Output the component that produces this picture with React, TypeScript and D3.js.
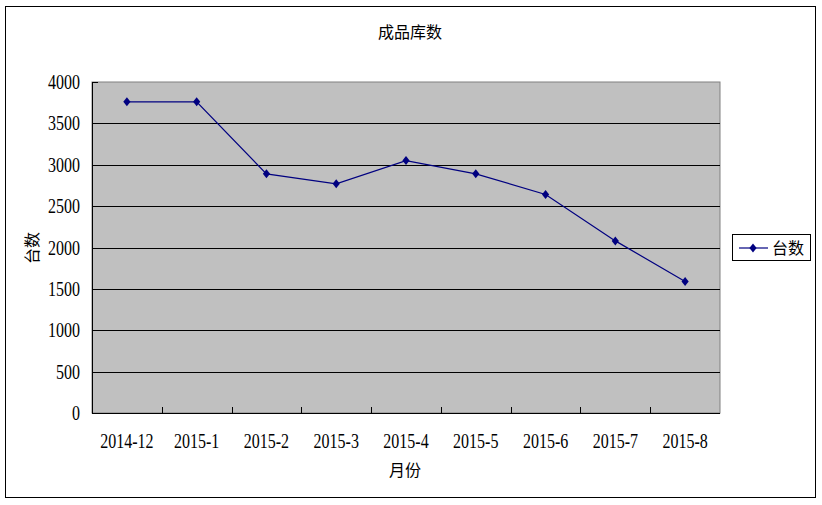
import React from "react";
import * as d3 from "d3";

const categories = ["2014-12", "2015-1", "2015-2", "2015-3", "2015-4", "2015-5", "2015-6", "2015-7", "2015-8"];
const values = [3760, 3760, 2890, 2770, 3050, 2890, 2640, 2080, 1590];
const yTicks = [0, 500, 1000, 1500, 2000, 2500, 3000, 3500, 4000];
const title = "成品库数";
const yTitle = "台数";
const xTitle = "月份";
const seriesName = "台数";

const W = 822, H = 505;
const plot = { left: 92, right: 720, top: 82, bottom: 413 };
const serif = "'Liberation Serif', serif";
const cjk = "'Noto Sans CJK SC', sans-serif";
const SX = 0.8;
const diamond = "M0,-4.5L3.6,0L0,4.5L-3.6,0Z";

export default function App() {
  const x = d3.scaleBand<string>().domain(categories).range([plot.left, plot.right]);
  const y = d3.scaleLinear().domain([0, 4000]).range([plot.bottom, plot.top]);
  const cx = (i: number) => (x(categories[i]) as number) + x.bandwidth() / 2;
  const line = d3.line<number>().x((_, i) => cx(i)).y((d) => y(d));
  const boundaries = categories.slice(1).map((c) => x(c) as number);

  return (
    <svg width={W} height={H} style={{ position: "absolute", left: 0, top: 0 }}>
      <rect x={0} y={0} width={W} height={H} fill="#fff" />
      <rect x={5.5} y={6.5} width={810} height={491} fill="none" stroke="#000" strokeWidth={1} />
      <text x={410} y={38} textAnchor="middle" fontFamily={cjk} fontSize={16} fill="#000">{title}</text>

      <rect x={plot.left} y={plot.top} width={plot.right - plot.left} height={plot.bottom - plot.top}
        fill="#c0c0c0" stroke="#808080" strokeWidth={1} />
      {yTicks.filter((t) => t > 0 && t < 4000).map((t) => (
        <line key={t} x1={plot.left} x2={plot.right} y1={Math.round(y(t)) + 0.5} y2={Math.round(y(t)) + 0.5} stroke="#000" />
      ))}
      {yTicks.map((t) => (
        <line key={"yt" + t} x1={plot.left} x2={plot.left + 6} y1={Math.round(y(t)) + 0.5} y2={Math.round(y(t)) + 0.5} stroke="#000" />
      ))}
      {boundaries.map((b, i) => (
        <line key={"xt" + i} x1={Math.round(b) + 0.5} x2={Math.round(b) + 0.5} y1={plot.bottom - 6} y2={plot.bottom} stroke="#000" />
      ))}
      <line x1={plot.left + 0.5} x2={plot.left + 0.5} y1={plot.top} y2={plot.bottom} stroke="#000" />
      <line x1={plot.left} x2={plot.right} y1={plot.bottom + 0.5} y2={plot.bottom + 0.5} stroke="#000" />

      {yTicks.map((t) => (
        <text key={"yl" + t} transform={`translate(80,${y(t) + 7}) scale(${SX},1)`} textAnchor="end"
          fontFamily={serif} fontSize={20} fill="#000">{t}</text>
      ))}
      {categories.map((c, i) => (
        <text key={c} transform={`translate(${cx(i)},448) scale(${SX},1)`} textAnchor="middle"
          fontFamily={serif} fontSize={20} fill="#000">{c}</text>
      ))}
      <text x={405} y={476} textAnchor="middle" fontFamily={cjk} fontSize={16} fill="#000">{xTitle}</text>
      <text transform={`translate(38,248) rotate(-90)`} textAnchor="middle" fontFamily={cjk} fontSize={16} fill="#000">{yTitle}</text>

      <path d={line(values) as string} fill="none" stroke="#000080" strokeWidth={1.2} />
      {values.map((v, i) => (
        <path key={i} d={diamond} fill="#000080" transform={`translate(${cx(i)},${y(v)})`} />
      ))}

      <rect x={732.5} y={234.5} width={78} height={26} fill="#fff" stroke="#000" />
      <line x1={739} x2={768} y1={248} y2={248} stroke="#000080" strokeWidth={1.2} />
      <path d={diamond} fill="#000080" transform="translate(753,248)" />
      <text x={772} y={254} fontFamily={cjk} fontSize={16} fill="#000">{seriesName}</text>
    </svg>
  );
}
